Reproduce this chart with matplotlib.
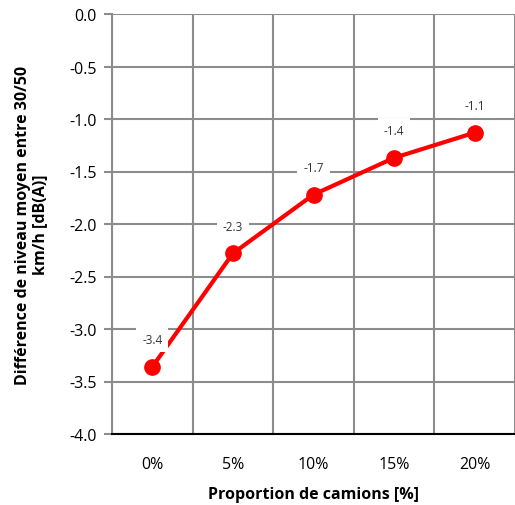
import numpy as np
import matplotlib.pyplot as plt

plt.rcParams['font.family'] = ['Open Sans', 'DejaVu Sans']

categories = ['0%', '5%', '10%', '15%', '20%']
values = [-3.36, -2.28, -1.72, -1.37, -1.13]
labels = ['-3.4', '-2.3', '-1.7', '-1.4', '-1.1']

fig = plt.figure(figsize=(5.15, 5.06), dpi=100)
ax = fig.add_axes([112 / 515, 71 / 506, 403 / 515, 420 / 506])

x = np.arange(len(categories))
grid_c = '#8c8c8c'

# grid
ax.set_ylim(-4.0, 0.0)
ax.set_xlim(-0.5, 4.36)
ax.set_yticks(np.arange(-4.0, 0.01, 0.5))
ax.set_yticklabels(['%.1f' % v for v in np.arange(-4.0, 0.01, 0.5)])
ax.set_xticks(x)
ax.set_xticklabels(categories)
ax.set_xticks(np.arange(-0.5, 4.6, 1.0), minor=True)
ax.grid(axis='y', which='major', color=grid_c, lw=1.5)
ax.grid(axis='x', which='minor', color=grid_c, lw=1.5)
ax.set_axisbelow(True)

for s in ['top', 'right']:
    ax.spines[s].set_visible(False)
ax.spines['left'].set_color(grid_c)
ax.spines['left'].set_linewidth(1.5)
ax.spines['bottom'].set_color('black')
ax.spines['bottom'].set_linewidth(1.5)
ax.spines['bottom'].set_zorder(5)

ax.tick_params(axis='y', length=6, width=1.5, color=grid_c, labelsize=11.5, pad=5)
ax.tick_params(axis='x', which='both', length=0, labelsize=11.5, pad=16)

ax.plot(x, values, color='#ff0000', lw=3, marker='o', ms=11, zorder=3, clip_on=False)

for xi, v, t in zip(x, values, labels):
    ax.annotate(t, (xi, v), xytext=(0, 27), textcoords='offset pixels',
                ha='center', va='center', fontsize=8.5, color='#333333', zorder=4,
                bbox=dict(boxstyle='square,pad=0.5', fc='white', ec='none'))

ax.set_xlabel('Proportion de camions [%]', fontsize=11.5, fontweight='bold', labelpad=10)
ax.set_ylabel('Différence de niveau moyen entre 30/50\nkm/h [dB(A)]', fontsize=11.5,
              fontweight='bold', labelpad=15, linespacing=1.15)

fig.savefig('out.png', dpi=100)
